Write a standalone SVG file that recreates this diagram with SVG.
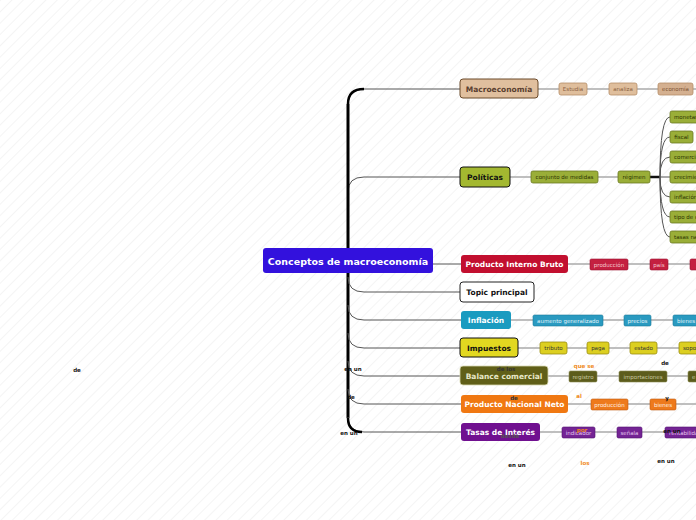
<svg xmlns="http://www.w3.org/2000/svg" width="696" height="520" viewBox="0 0 696 520">
<defs>
<pattern id="bg" width="8" height="8" patternUnits="userSpaceOnUse" patternTransform="rotate(45)">
<rect width="8" height="8" fill="#ffffff"/>
<line x1="0" y1="0" x2="0" y2="8" stroke="#f1f1f1" stroke-width="1.5"/>
</pattern>
</defs>
<style>
text{font-family:"DejaVu Sans","Liberation Sans",sans-serif;text-anchor:middle;dominant-baseline:central}
.mt{font-size:7.5px;font-weight:bold}
.st{font-size:5.5px}
.lb{font-size:5.5px;font-weight:bold}
.br{fill:none;stroke:#555;stroke-width:1}
.ln{fill:none;stroke:#aaa;stroke-width:1.6}
</style>
<rect width="696" height="520" fill="url(#bg)"/>

<g id="connectors">
<path d="M348 104 Q348 89 364 89 L460 89" class="br"/>
<path d="M348 192 Q348 177 364 177 L460 177" class="br"/>
<path d="M348 104 L348 418" fill="none" stroke="#000" stroke-width="3"/>
<path d="M348 249 Q348 264 364 264 L461 264" class="br"/>
<path d="M348 277 Q348 292 364 292 L460 292" class="br"/>
<path d="M348 305 Q348 320 364 320 L461 320" class="br"/>
<path d="M348 333 Q348 348 364 348 L460 348" class="br"/>
<path d="M348 361 Q348 376 364 376 L460 376" class="br"/>
<path d="M348 389 Q348 404 364 404 L461 404" class="br"/>
<path d="M348 417 Q348 432 364 432 L461 432" class="br"/>
<path d="M348 104 Q348 89 364 89" fill="none" stroke="#000" stroke-width="2.5"/>
<path d="M348 418 Q348 432 362 432" fill="none" stroke="#000" stroke-width="2.5"/>
<!-- Macro -->
<path d="M538 89 H559 M587 89 H609 M637 89 H658 M693 89 H696" class="ln"/>
<!-- Politicas -->
<path d="M510 177 H531 M598 177 H618" class="ln"/>
<path d="M650 177 H660" fill="none" stroke="#111" stroke-width="2.5"/>
<path d="M660 177 Q660 117 670 117 M660 177 Q660 137 670 137 M660 177 Q660 157 670 157 M660 177 H670 M660 177 Q660 197 670 197 M660 177 Q660 217 670 217 M660 177 Q660 237 670 237" class="br"/>
<!-- PIB -->
<path d="M568 264 H590 M628 264 H650 M668 264 H690" class="ln"/>
<!-- Inflacion -->
<path d="M511 320 H533 M603 320 H624 M651 320 H673" class="ln"/>
<!-- Impuestos -->
<path d="M518 348 H540 M567 348 H587 M609 348 H630 M657 348 H679" class="ln"/>
<!-- Balance -->
<path d="M548 376 H569 M597 376 H619 M667 376 H688" class="ln"/>
<!-- PNN -->
<path d="M568 404 H591 M628 404 H650 M676 404 H696" class="ln"/>
<!-- Tasas -->
<path d="M540 432 H562 M595 432 H617 M642 432 H665" class="ln"/>
</g>

<g id="central">
<rect x="263" y="248" width="170" height="25" rx="3" fill="#3311dd"/>
<text x="348" y="261" fill="#fff" style="font-size:9.5px;font-weight:bold">Conceptos de macroeconomía</text>
</g>

<g id="macroeconomia">
<rect x="460" y="79" width="78" height="19" rx="3" fill="#e0bf9e" stroke="#6b4a2a" stroke-width="1"/>
<text x="499" y="89" class="mt" fill="#5a4030">Macroeconomía</text>
</g>
<g id="macro-subs">
<rect x="559" y="83" width="28" height="12" rx="2" fill="#dfbe9c" stroke="#b58e68" stroke-width="0.8"/>
<text x="573" y="89" class="st" fill="#8a6040">Estudia</text>
<rect x="609" y="83" width="28" height="12" rx="2" fill="#dfbe9c" stroke="#b58e68" stroke-width="0.8"/>
<text x="623" y="89" class="st" fill="#8a6040">analiza</text>
<rect x="658" y="83" width="35" height="12" rx="2" fill="#d4b090" stroke="#b58e68" stroke-width="0.8"/>
<text x="675.5" y="89" class="st" fill="#7a5030">economía</text>
</g>

<g id="politicas">
<rect x="460" y="167" width="50" height="20" rx="3" fill="#a3b830" stroke="#111" stroke-width="1"/>
<text x="485" y="177" class="mt" fill="#111">Políticas</text>
</g>
<g id="politicas-subs">
<rect x="531" y="171" width="67" height="12" rx="2" fill="#9aae38" stroke="#6b7a22" stroke-width="0.8"/>
<text x="564.5" y="177" class="st" fill="#2a3300">conjunto de medidas</text>
<rect x="618" y="171" width="32" height="12" rx="2" fill="#9aae38" stroke="#6b7a22" stroke-width="0.8"/>
<text x="634" y="177" class="st" fill="#2a3300">régimen</text>
<rect x="670" y="111" width="30" height="12" rx="2" fill="#9aae38" stroke="#6b7a22" stroke-width="0.8"/>
<text x="674" y="117" class="st" fill="#2a3300" style="text-anchor:start">monetaria</text>
<rect x="670" y="131" width="23" height="12" rx="2" fill="#9aae38" stroke="#6b7a22" stroke-width="0.8"/>
<text x="681.5" y="137" class="st" fill="#2a3300">fiscal</text>
<rect x="670" y="151" width="30" height="12" rx="2" fill="#9aae38" stroke="#6b7a22" stroke-width="0.8"/>
<text x="674" y="157" class="st" fill="#2a3300" style="text-anchor:start">comercial</text>
<rect x="670" y="171" width="30" height="12" rx="2" fill="#9aae38" stroke="#6b7a22" stroke-width="0.8"/>
<text x="674" y="177" class="st" fill="#2a3300" style="text-anchor:start">crecimiento</text>
<rect x="670" y="191" width="30" height="12" rx="2" fill="#9aae38" stroke="#6b7a22" stroke-width="0.8"/>
<text x="674" y="197" class="st" fill="#2a3300" style="text-anchor:start">inflación</text>
<rect x="670" y="211" width="30" height="12" rx="2" fill="#9aae38" stroke="#6b7a22" stroke-width="0.8"/>
<text x="674" y="217" class="st" fill="#2a3300" style="text-anchor:start">tipo de cambio</text>
<rect x="670" y="231" width="30" height="12" rx="2" fill="#9aae38" stroke="#6b7a22" stroke-width="0.8"/>
<text x="674" y="237" class="st" fill="#2a3300" style="text-anchor:start">tasas nacionales</text>
</g>

<g id="pib">
<rect x="461" y="255" width="107" height="18" rx="3" fill="#c20f2f"/>
<text x="514.5" y="264" class="mt" fill="#fff">Producto Interno Bruto</text>
</g>
<g id="pib-subs">
<rect x="590" y="259" width="38" height="11" rx="1.5" fill="#c42040" stroke="#9a1030" stroke-width="0.6"/>
<text x="609" y="264.5" class="st" fill="#f4c8d0">producción</text>
<rect x="650" y="259" width="18" height="11" rx="1.5" fill="#c42040" stroke="#9a1030" stroke-width="0.6"/>
<text x="659" y="264.5" class="st" fill="#f4c8d0">país</text>
<rect x="690" y="259" width="10" height="11" rx="1.5" fill="#c42040" stroke="#9a1030" stroke-width="0.6"/>
</g>

<g id="topic">
<rect x="460" y="282" width="74" height="20" rx="3" fill="#fff" stroke="#222" stroke-width="1"/>
<text x="497" y="292" class="mt" fill="#111">Topic principal</text>
</g>

<g id="inflacion">
<rect x="461" y="311" width="50" height="18" rx="3" fill="#1a9bc0"/>
<text x="486" y="320" class="mt" fill="#fff">Inflación</text>
</g>
<g id="inflacion-subs">
<rect x="533" y="315" width="70" height="11" rx="1.5" fill="#2a9ac0" stroke="#1a7a9a" stroke-width="0.6"/>
<text x="568" y="320.5" class="st" fill="#e0f4fa">aumento generalizado</text>
<rect x="624" y="315" width="27" height="11" rx="1.5" fill="#2a9ac0" stroke="#1a7a9a" stroke-width="0.6"/>
<text x="637.5" y="320.5" class="st" fill="#e0f4fa">precios</text>
<rect x="673" y="315" width="30" height="11" rx="1.5" fill="#2a9ac0" stroke="#1a7a9a" stroke-width="0.6"/>
<text x="677" y="320.5" class="st" fill="#e0f4fa" style="text-anchor:start">bienes y</text>
</g>

<g id="impuestos">
<rect x="460" y="338" width="58" height="19" rx="3" fill="#e2d820" stroke="#111" stroke-width="1"/>
<text x="489" y="348" class="mt" fill="#111">Impuestos</text>
</g>
<g id="impuestos-subs">
<rect x="540" y="342" width="27" height="12" rx="2" fill="#dccf20" stroke="#9a8e10" stroke-width="0.8"/>
<text x="553.5" y="348" class="st" fill="#333">tributo</text>
<rect x="587" y="342" width="22" height="12" rx="2" fill="#dccf20" stroke="#9a8e10" stroke-width="0.8"/>
<text x="598" y="348" class="st" fill="#333">paga</text>
<rect x="630" y="342" width="27" height="12" rx="2" fill="#dccf20" stroke="#9a8e10" stroke-width="0.8"/>
<text x="643.5" y="348" class="st" fill="#333">estado</text>
<rect x="679" y="342" width="25" height="12" rx="2" fill="#dccf20" stroke="#9a8e10" stroke-width="0.8"/>
<text x="683" y="348" class="st" fill="#333" style="text-anchor:start">soporta</text>
</g>

<g id="balance">
<rect x="460" y="366" width="88" height="19" rx="3" fill="#605f18" stroke="#d8d8b0" stroke-width="0.8"/>
<text x="504" y="376" class="mt" fill="#e8e8c8">Balance comercial</text>
</g>
<g id="balance-subs">
<rect x="569" y="371" width="28" height="11" rx="1.5" fill="#5c5c1c" stroke="#8a8a50" stroke-width="0.6"/>
<text x="583" y="376.5" class="st" fill="#c8c8a0">registro</text>
<rect x="619" y="371" width="48" height="11" rx="1.5" fill="#5c5c1c" stroke="#8a8a50" stroke-width="0.6"/>
<text x="643" y="376.5" class="st" fill="#c8c8a0">importaciones</text>
<rect x="688" y="371" width="12" height="11" rx="1.5" fill="#5c5c1c" stroke="#8a8a50" stroke-width="0.6"/>
<text x="692" y="376.5" class="st" fill="#c8c8a0" style="text-anchor:start">e</text>
</g>

<g id="pnn">
<rect x="461" y="395" width="107" height="18" rx="3" fill="#f07812"/>
<text x="514.5" y="404.5" class="mt" fill="#fff">Producto Nacional Neto</text>
</g>
<g id="pnn-subs">
<rect x="591" y="399" width="37" height="11" rx="1.5" fill="#ee7a1c" stroke="#c05a10" stroke-width="0.6"/>
<text x="609.5" y="404.5" class="st" fill="#fff0e0">producción</text>
<rect x="650" y="399" width="26" height="11" rx="1.5" fill="#ee7a1c" stroke="#c05a10" stroke-width="0.6"/>
<text x="663" y="404.5" class="st" fill="#fff0e0">bienes</text>
</g>

<g id="tasas">
<rect x="461" y="423" width="79" height="18" rx="3" fill="#701090"/>
<text x="500.5" y="432" class="mt" fill="#fff">Tasas de Interés</text>
</g>
<g id="tasas-subs">
<rect x="562" y="427" width="33" height="11" rx="1.5" fill="#742494" stroke="#501070" stroke-width="0.6"/>
<text x="578.5" y="432.5" class="st" fill="#e4c8f0">indicador</text>
<rect x="617" y="427" width="25" height="11" rx="1.5" fill="#742494" stroke="#501070" stroke-width="0.6"/>
<text x="629.5" y="432.5" class="st" fill="#e4c8f0">señala</text>
<rect x="665" y="427" width="35" height="11" rx="1.5" fill="#742494" stroke="#501070" stroke-width="0.6"/>
<text x="669" y="432.5" class="st" fill="#e4c8f0" style="text-anchor:start">rentabilidad</text>
</g>

<g id="labels">
<text x="77" y="370" class="lb" fill="#111">de</text>
<text x="353" y="369" class="lb" fill="#111">en un</text>
<text x="351" y="397" class="lb" fill="#111">de</text>
<text x="349" y="433" class="lb" fill="#111">en un</text>
<text x="665" y="363" class="lb" fill="#111">de</text>
<text x="506" y="369" class="lb" fill="#333">de los</text>
<text x="584" y="366" class="lb" fill="#f08a20">que se</text>
<text x="514" y="398" class="lb" fill="#333">de</text>
<text x="579" y="396" class="lb" fill="#f08a20">al</text>
<text x="667" y="398" class="lb" fill="#111">y</text>
<text x="510" y="436" class="lb" fill="#555">desde</text>
<text x="582" y="430" class="lb" fill="#f08a20">por</text>
<text x="672" y="431" class="lb" fill="#111">en un</text>
<text x="517" y="465" class="lb" fill="#111">en un</text>
<text x="585" y="463" class="lb" fill="#f08a20">los</text>
<text x="666" y="461" class="lb" fill="#111">en un</text>
</g>
</svg>
